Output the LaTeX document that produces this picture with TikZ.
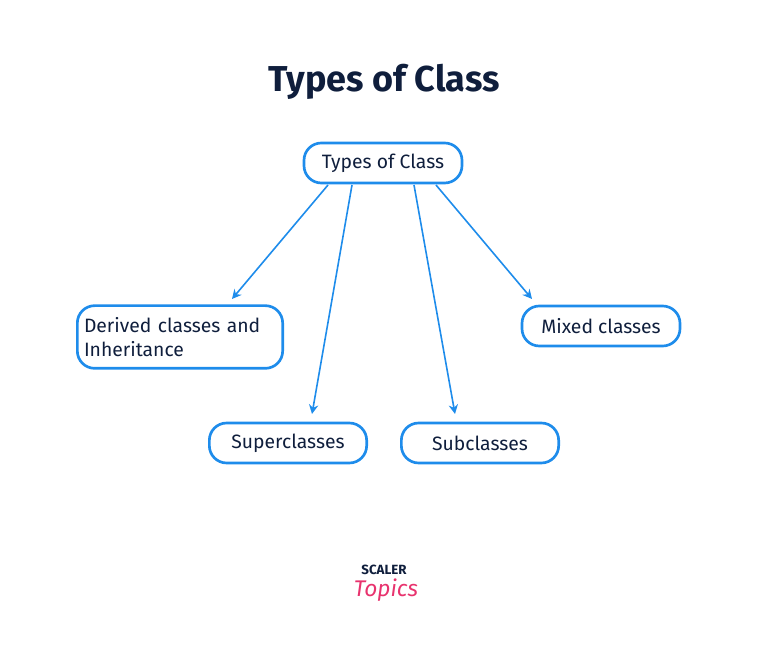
\documentclass[tikz,border=0pt]{standalone}
\usepackage{fontspec}
\setmainfont{Fira Sans}
\usetikzlibrary{arrows.meta}
\definecolor{bl}{HTML}{1E8CEB}
\definecolor{navy}{HTML}{0F1E3C}
\definecolor{pink}{HTML}{E8336E}
\tikzset{box/.style={draw=bl,line width=2pt,rounded corners=13pt,font=\fontsize{14.5}{18}\selectfont,text=navy,inner sep=0pt},
con/.style={draw=bl,line width=1.2pt,-{Stealth[length=7pt,width=7pt]}}}
\begin{document}
\begin{tikzpicture}[x=0.75pt,y=-0.75pt]
\useasboundingbox (0,0) rectangle (768,659);
\node[font=\fontsize{27}{30}\selectfont\bfseries,text=navy] (title) at (384,82) {Types of Class};
\node[box,minimum width=118.5pt,minimum height=30pt] (root) at (383,163) {Types of Class};
\node[box,minimum width=154pt,minimum height=47pt,align=left,text width=144pt] (der) at (180,337) {Derived classes and\\Inheritance};
\node[box,minimum width=118.5pt,minimum height=30pt] (mix) at (601,326) {Mixed classes};
\node[box,minimum width=118pt,minimum height=30pt] (sup) at (288,443) {Superclasses};
\node[box,minimum width=118pt,minimum height=30pt] (sub) at (480,443) {Subclasses};
\coordinate (a1) at (328,185); \coordinate (a2) at (352,185);
\coordinate (a3) at (414,185); \coordinate (a4) at (436,185);
\draw[con] (a1) -- (232,299) coordinate (e1);
\draw[con] (a2) -- (312,414) coordinate (e2);
\draw[con] (a3) -- (455,414) coordinate (e3);
\draw[con] (a4) -- (532,299) coordinate (e4);
\node[font=\fontsize{10}{12}\selectfont\bfseries,text=navy] (sc) at (384,570) {SCALER};
\node[font=\fontsize{17}{20}\selectfont\itshape,text=pink] (tp) at (386,590) {Topics};
\end{tikzpicture}
\end{document}
